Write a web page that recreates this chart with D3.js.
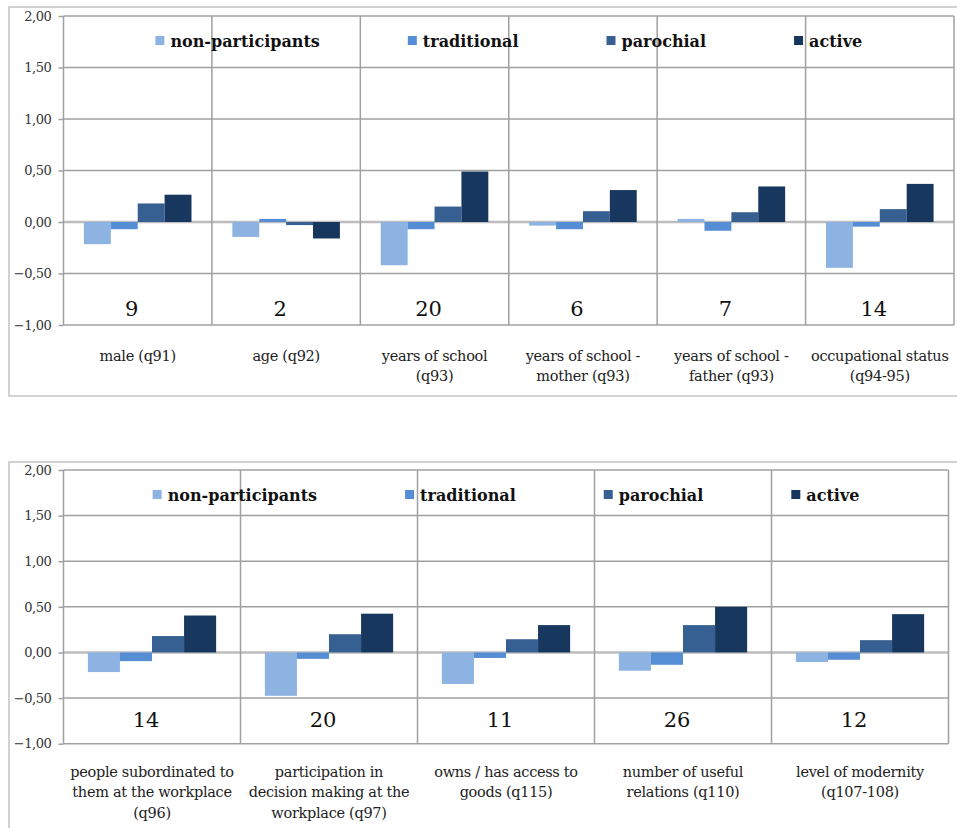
<!DOCTYPE html>
<html lang="en">
<head>
	<meta charset="utf-8">
	<title>participation types - differences</title>
	<script src="https://d3js.org/d3.v7.min.js"></script>
	<style type="text/css">
		body { margin: 0; background: #fff; }
		.Axis path { display: none; }
		.Axis line { stroke: #a0a0a0; stroke-width: 1.5; }
		.Axis text { font-family: "DejaVu Serif", serif; font-size: 13px; letter-spacing: -0.4px; fill: #333; }
	</style>
</head>
<body>
	<svg id="placeholder1"></svg>

	<script type="text/javascript">
		//============================================================
		//                          data
		//============================================================

		var series = ["non-participants", "traditional", "parochial", "active"]
		var seriesColors = ["#8db3e2", "#558ed5", "#376092", "#17375e"]
		var yTicks = [-1, -0.5, 0, 0.5, 1, 1.5, 2]

		// top panel
		var topCategories = [
			["male (q91)"],
			["age (q92)"],
			["years of school", "(q93)"],
			["years of school -", "mother (q93)"],
			["years of school -", "father (q93)"],
			["occupational status", "(q94-95)"]
		]
		var topCounts = [9, 2, 20, 6, 7, 14]
		var topNonParticipants = [-0.215, -0.145, -0.42, -0.035, 0.03, -0.445]
		var topTraditional     = [-0.07, 0.03, -0.07, -0.07, -0.085, -0.045]
		var topParochial       = [0.18, -0.03, 0.15, 0.105, 0.095, 0.125]
		var topActive          = [0.265, -0.16, 0.49, 0.31, 0.345, 0.37]

		// bottom panel
		var bottomCategories = [
			["people subordinated to", "them at the workplace", "(q96)"],
			["participation in", "decision making at the", "workplace (q97)"],
			["owns / has access to", "goods (q115)"],
			["number of useful", "relations (q110)"],
			["level of modernity", "(q107-108)"]
		]
		var bottomCounts = [14, 20, 11, 26, 12]
		var bottomNonParticipants = [-0.215, -0.475, -0.345, -0.2, -0.105]
		var bottomTraditional     = [-0.095, -0.07, -0.06, -0.135, -0.08]
		var bottomParochial       = [0.18, 0.2, 0.145, 0.3, 0.135]
		var bottomActive          = [0.405, 0.425, 0.3, 0.5, 0.42]

		//============================================================
		//                          init
		//============================================================

		var wholeW = 957
		var wholeH = 828
		var gridColor = "#a0a0a0"
		var serifFont = "'DejaVu Serif', serif"

		var svg = d3.select("#placeholder1")
			.attr("width", wholeW)
			.attr("height", wholeH)

		var fmt = d => d3.format(".2f")(d).replace(".", ",")

		var panels = [
			{
				frame: {x: 9, y: 7, w: 960, h: 389},
				left: 63.5, right: 954, top: 16, bottom: 325,
				categories: topCategories, counts: topCounts,
				values: [topNonParticipants, topTraditional, topParochial, topActive],
				countY: -0.91, labelDy: 36, lineH: 20
			},
			{
				frame: {x: 9, y: 462, w: 960, h: 400},
				left: 63.5, right: 948.5, top: 470, bottom: 743.7,
				categories: bottomCategories, counts: bottomCounts,
				values: [bottomNonParticipants, bottomTraditional, bottomParochial, bottomActive],
				countY: -0.815, labelDy: 33, lineH: 20.5
			}
		]

		panels.forEach(drawPanel)

		//============================================================
		//                          draw
		//============================================================

		function drawPanel(p) {
			var g = svg.append("g")
			var idx = d3.range(p.categories.length)

			// outer frame
			g.append("rect")
				.attr("x", p.frame.x).attr("y", p.frame.y)
				.attr("width", p.frame.w).attr("height", p.frame.h)
				.attr("fill", "none")
				.attr("stroke", "#c4c4c4")
				.attr("stroke-width", 1.5)

			var xScale = d3.scaleBand().domain(idx).range([p.left, p.right])
			var x1 = d3.scaleBand().domain(series).range([0, xScale.bandwidth()]).paddingOuter(0.76)
			var yScale = d3.scaleLinear().domain([-1, 2]).range([p.bottom, p.top])

			// horizontal grid
			g.selectAll(".hgrid").data(yTicks).join("line")
				.attr("x1", p.left).attr("x2", p.right)
				.attr("y1", d => yScale(d)).attr("y2", d => yScale(d))
				.attr("stroke", d => d === 0 ? "#bdbdbd" : gridColor)
				.attr("stroke-width", d => d === 0 ? 2.5 : 1.5)

			// vertical dividers
			var bounds = idx.map(i => xScale(i)).concat([p.right])
			g.selectAll(".vgrid").data(bounds).join("line")
				.attr("x1", d => d).attr("x2", d => d)
				.attr("y1", p.top).attr("y2", p.bottom)
				.attr("stroke", gridColor)
				.attr("stroke-width", 1.5)

			// bars
			series.forEach((s, si) => {
				g.selectAll(".bar" + si).data(p.values[si]).join("rect")
					.attr("x", (d, i) => xScale(i) + x1(s))
					.attr("width", x1.bandwidth())
					.attr("y", d => yScale(Math.max(0, d)))
					.attr("height", d => Math.abs(yScale(d) - yScale(0)))
					.attr("fill", seriesColors[si])
			})

			// y axis
			g.append("g")
				.attr("class", "y Axis")
				.attr("transform", "translate(" + p.left + ",0)")
				.call(d3.axisLeft(yScale).tickValues(yTicks).tickFormat(fmt).tickSize(5).tickPadding(7))

			// counts
			g.selectAll(".count").data(p.counts).join("text")
				.attr("x", (d, i) => xScale(i) + xScale.bandwidth() / 2 - 6)
				.attr("y", yScale(p.countY))
				.attr("text-anchor", "middle")
				.style("font-family", serifFont)
				.style("font-size", "21px")
				.style("fill", "#111")
				.text(d => d)

			// category labels
			var labels = g.selectAll(".cat").data(p.categories).join("text")
				.attr("text-anchor", "middle")
				.style("font-family", serifFont)
				.style("font-size", "14.5px")
				.style("letter-spacing", "-0.3px")
				.style("fill", "#222")
			labels.selectAll("tspan").data((d, i) => d.map(t => ({t: t, i: i}))).join("tspan")
				.attr("x", d => xScale(d.i) + xScale.bandwidth() / 2)
				.attr("y", (d, j) => p.bottom + p.labelDy + j * p.lineH)
				.text(d => d.t)

			// legend
			var leg = g.append("g")
			var items = leg.selectAll("g").data(series).join("g")
			items.append("rect")
				.attr("width", 9).attr("height", 9)
				.attr("y", -11)
				.attr("fill", (d, i) => seriesColors[i])
			items.append("text")
				.attr("x", 15)
				.style("font-family", serifFont)
				.style("font-weight", "bold")
				.style("font-size", "16px")
				.style("fill", "#111")
				.text(d => d)
			var xPos = 0
			items.each(function () {
				var w = d3.select(this).select("text").node().getComputedTextLength()
				d3.select(this).attr("transform", "translate(" + xPos + ",0)")
				xPos += 15 + w + 88
			})
			var total = xPos - 88
			leg.attr("transform", "translate(" + ((p.left + p.right) / 2 - total / 2) + "," + (p.top + 31) + ")")
		}
	</script>
</body>
</html>
